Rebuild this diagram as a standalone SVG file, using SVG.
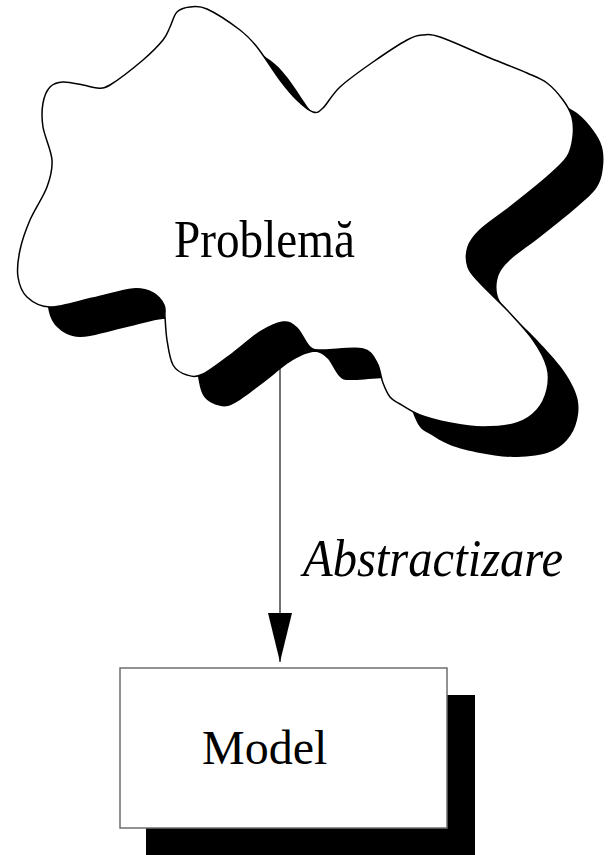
<svg xmlns="http://www.w3.org/2000/svg" xmlns:xlink="http://www.w3.org/1999/xlink" width="613" height="855" viewBox="0 0 613 855">
  <style>
    .lbl { font-family: "Liberation Serif", "Times New Roman", serif; font-size: 48px; fill: #000; }
    .big { font-size: 53px; }
    .it { font-style: italic; }
    .cloud { fill: #fff; stroke: #000; stroke-width: 1.5; }
    .shadow { fill: #000; stroke: none; }
    .box { fill: #fff; stroke: #6e6e6e; stroke-width: 1.5; }
    .conn { stroke: #444; stroke-width: 1.5; fill: none; }
  </style>
  <defs>
    <path id="cloudPath" d="M190,7 C195,6.5 198.7,5.2 207,9 S231.7,23.7 240,30 S250.3,38.7 257,47 S273.3,71.2 280,80 S291.5,94.7 297,100 S308.7,110.7 313,112 S318.5,112.2 323,108 S331.7,94.7 340,87 S361.8,69.8 373,62 S398.7,44.5 407,40 S417.5,35.5 423,35 S428.8,33.2 440,37 S475.5,52 490,58 S517.5,68.8 527,73 S541,78.5 547,83 S558.8,94.3 563,100 S570.3,110.8 572,117 S573.8,130.3 573,137 S571.3,150.3 567,157 S556.5,168.7 547,177 S521.2,198.2 510,207 S487,223.3 480,230 S470,240.8 468,247 S466,261 468,267 S473.5,275.8 480,283 S498.2,300.5 507,310 S526.3,330.5 533,340 S544.7,358.7 547,367 S548.7,382.8 547,390 S542,404.5 537,410 S526,420.2 517,423 S494.2,427 483,427 S460.5,425 450,423 S428.3,418.2 420,415 S405,407 400,404 S392.8,400.5 390,397 S385.2,388.7 383,383 S380.3,368.7 377,363 S372,351.2 363,349 S331.8,350.3 323,350 S314.3,350.7 310,347 S301.5,332.2 297,328 S289.2,321.3 283,322 S268.3,326.8 260,332 S242.5,346 233,353 S210.7,370.3 203,374 S192,376.5 187,375 S176.3,370.8 173,365 S168.3,348 167,340 S165.5,322.8 165,317 S166,309 164,305 S158.2,295.7 153,293 S143,288.2 133,289 S106.8,295 93,298 S61,307.2 50,307 S32.3,302 27,297 S19.2,284.8 18,277 S18,259.5 20,250 S25.5,230.5 30,220 S43.3,197 47,187 S52.7,170 52,160 S44.5,136.5 43,127 S41.8,109.7 43,103 S46.7,90.5 50,87 S57.5,82.3 63,82 S77.3,84 83,85 S92.5,88 97,88 S102.3,89.7 110,85 S134.2,67.5 143,60 S158.5,45.5 163,40 S167.7,31.7 170,27 S173.7,15.3 177,12 S185,7.5 190,7 Z"/>
    <marker id="arrow" viewBox="0 0 49 24" refX="49" refY="12" markerWidth="49" markerHeight="24" markerUnits="userSpaceOnUse" orient="auto">
      <path d="M0,0 L49,12 L0,24 Z" fill="#000"/>
    </marker>
  </defs>

  <g id="connectors">
    <line class="conn" x1="280" y1="330" x2="280" y2="662" marker-end="url(#arrow)"/>
    <text class="lbl big it" x="303" y="576" textLength="260" lengthAdjust="spacingAndGlyphs">Abstractizare</text>
  </g>

  <g id="problema">
    <use xlink:href="#cloudPath" href="#cloudPath" class="shadow" transform="translate(30,30)"/>
    <use xlink:href="#cloudPath" href="#cloudPath" class="cloud"/>
    <text class="lbl big" x="174" y="257" textLength="181" lengthAdjust="spacingAndGlyphs">Problemă</text>
  </g>

  <g id="model">
    <rect class="shadow" x="146" y="695" width="329" height="170"/>
    <rect class="box" x="120" y="668" width="327" height="160"/>
    <text class="lbl" x="202" y="764">Model</text>
  </g>
</svg>
